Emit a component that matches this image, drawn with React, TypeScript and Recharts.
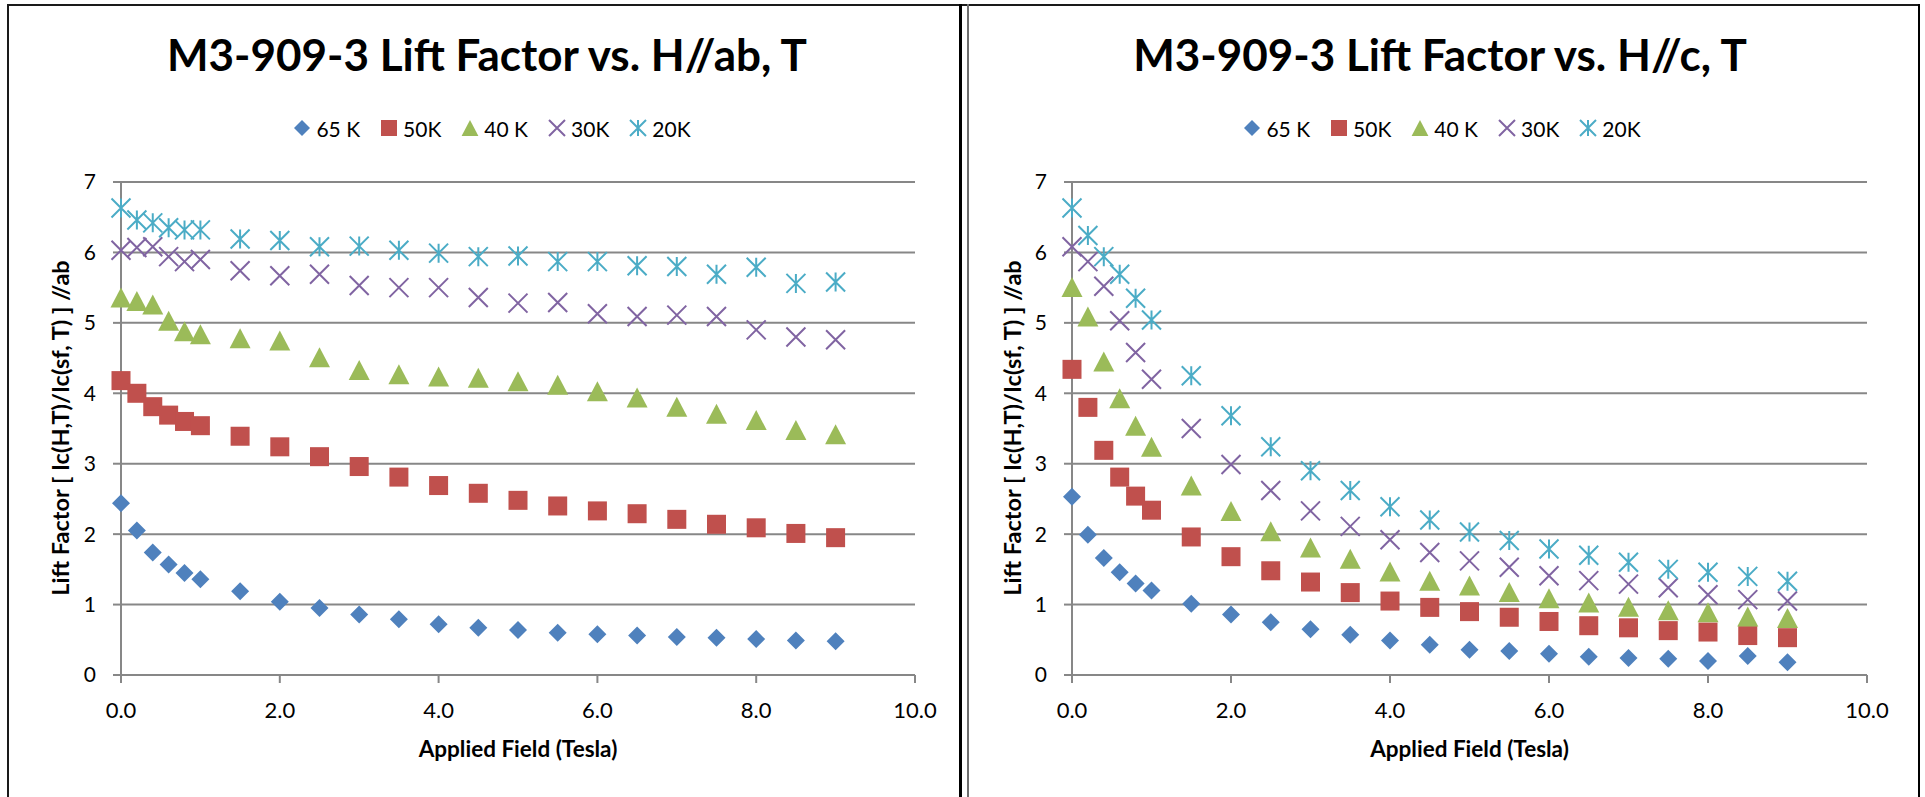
import React from 'react';
import { ScatterChart, Scatter, XAxis, YAxis, CartesianGrid } from 'recharts';

// applied field (Tesla) for every measured point
const fields = [0, 0.2, 0.4, 0.6, 0.8, 1.0, 1.5, 2.0, 2.5, 3.0, 3.5, 4.0, 4.5, 5.0, 5.5, 6.0, 6.5, 7.0, 7.5, 8.0, 8.5, 9.0];

const seriesNames = ['65 K', '50K', '40 K', '30K', '20K'];

// H//ab
const ab65 = [2.44, 2.05, 1.74, 1.57, 1.45, 1.36, 1.19, 1.04, 0.95, 0.86, 0.79, 0.72, 0.67, 0.64, 0.60, 0.58, 0.56, 0.54, 0.53, 0.51, 0.49, 0.48];
const ab50 = [4.18, 4.00, 3.81, 3.69, 3.60, 3.54, 3.39, 3.24, 3.10, 2.96, 2.81, 2.69, 2.58, 2.48, 2.40, 2.33, 2.29, 2.21, 2.14, 2.09, 2.01, 1.95];
const ab40 = [5.36, 5.31, 5.26, 5.03, 4.88, 4.84, 4.78, 4.75, 4.51, 4.33, 4.27, 4.24, 4.22, 4.17, 4.12, 4.03, 3.94, 3.81, 3.71, 3.62, 3.48, 3.42];
const ab30 = [6.03, 6.07, 6.08, 5.94, 5.87, 5.90, 5.74, 5.67, 5.69, 5.53, 5.50, 5.50, 5.36, 5.28, 5.29, 5.13, 5.09, 5.11, 5.09, 4.90, 4.80, 4.76];
const ab20 = [6.63, 6.46, 6.42, 6.35, 6.32, 6.32, 6.19, 6.17, 6.08, 6.09, 6.03, 5.99, 5.94, 5.95, 5.87, 5.87, 5.81, 5.80, 5.69, 5.79, 5.56, 5.58];

// H//c
const c65 = [2.53, 1.99, 1.66, 1.46, 1.30, 1.20, 1.01, 0.86, 0.75, 0.65, 0.57, 0.49, 0.43, 0.36, 0.34, 0.30, 0.26, 0.24, 0.23, 0.20, 0.27, 0.18];
const c50 = [4.34, 3.80, 3.19, 2.81, 2.54, 2.34, 1.96, 1.68, 1.48, 1.32, 1.17, 1.05, 0.96, 0.90, 0.82, 0.76, 0.70, 0.67, 0.63, 0.61, 0.56, 0.53];
const c40 = [5.51, 5.09, 4.45, 3.93, 3.54, 3.24, 2.69, 2.33, 2.04, 1.81, 1.65, 1.47, 1.34, 1.27, 1.18, 1.09, 1.03, 0.97, 0.92, 0.89, 0.83, 0.81];
const c30 = [6.08, 5.87, 5.52, 5.03, 4.58, 4.20, 3.50, 2.99, 2.62, 2.33, 2.11, 1.92, 1.74, 1.62, 1.53, 1.41, 1.34, 1.29, 1.24, 1.14, 1.07, 1.05];
const c20 = [6.63, 6.24, 5.94, 5.69, 5.35, 5.04, 4.25, 3.68, 3.24, 2.90, 2.62, 2.39, 2.20, 2.03, 1.91, 1.79, 1.70, 1.60, 1.50, 1.46, 1.40, 1.33];

const xTicks = [0, 2, 4, 6, 8, 10];
const yTicks = [0, 1, 2, 3, 4, 5, 6, 7];

const COLORS = ['#4F81BD', '#C0504D', '#9BBB59', '#8064A2', '#4BACC6'];
const SIZES = [18, 19, 20, 19, 19];
const GRID = '#878787';
const FONT = 'Lato, "Open Sans", sans-serif';

const W = 960;
const H = 797;

const Marker = ({ kind, cx, cy, s }: { kind: number; cx: number; cy: number; s: number }) => {
  const h = s / 2;
  const c = COLORS[kind];
  if (kind === 0) return <path d={`M${cx},${cy - h}L${cx + h},${cy}L${cx},${cy + h}L${cx - h},${cy}Z`} fill={c} />;
  if (kind === 1) return <rect x={cx - h} y={cy - h} width={s} height={s} fill={c} />;
  if (kind === 2) return <path d={`M${cx},${cy - h}L${cx + h * 1.05},${cy + h}L${cx - h * 1.05},${cy + h}Z`} fill={c} />;
  if (kind === 3)
    return <path d={`M${cx - h},${cy - h}L${cx + h},${cy + h}M${cx + h},${cy - h}L${cx - h},${cy + h}`} stroke={c} strokeWidth={2} fill="none" />;
  return (
    <path
      d={`M${cx - h},${cy - h}L${cx + h},${cy + h}M${cx + h},${cy - h}L${cx - h},${cy + h}M${cx},${cy - h}L${cx},${cy + h}`}
      stroke={c}
      strokeWidth={2}
      fill="none"
    />
  );
};

const makeShape = (kind: number) => (props: any) => <Marker kind={kind} cx={props.cx} cy={props.cy} s={SIZES[kind]} />;

interface PanelProps {
  title: string;
  values: number[][];
  plotLeft: number;
  plotRight: number;
  titleX: number;
  legendX: number;
  yTitleX: number;
}

const Panel = ({ title, values, plotLeft, plotRight, titleX, legendX, yTitleX }: PanelProps) => {
  const plotCenter = (plotLeft + plotRight) / 2;
  return (
    <div style={{ position: 'relative', width: W, height: H }}>
      <div style={{ position: 'absolute', left: 0, top: 0 }}>
        <ScatterChart width={W} height={H} margin={{ top: 182, right: W - plotRight, bottom: 62, left: plotLeft - 60 }}>
          <CartesianGrid vertical={false} stroke={GRID} strokeWidth={2} />
          <XAxis
            type="number"
            dataKey="x"
            domain={[0, 10]}
            ticks={xTicks}
            height={60}
            tickFormatter={(v: number) => v.toFixed(1)}
            stroke={GRID}
            strokeWidth={2}
            tickSize={8}
            tickMargin={19}
            tick={{ fill: '#000', fontSize: 22, fontFamily: FONT }}
          />
          <YAxis
            type="number"
            dataKey="y"
            domain={[0, 7]}
            ticks={yTicks}
            width={60}
            stroke={GRID}
            strokeWidth={2}
            tickSize={8}
            tickMargin={17}
            tick={{ fill: '#000', fontSize: 21, fontFamily: FONT }}
          />
          {values.map((vals, k) => (
            <Scatter
              key={seriesNames[k]}
              name={seriesNames[k]}
              data={fields.map((x, i) => ({ x, y: vals[i] }))}
              shape={makeShape(k)}
              isAnimationActive={false}
            />
          ))}
        </ScatterChart>
      </div>
      <svg width={W} height={H} style={{ position: 'absolute', left: 0, top: 0, pointerEvents: 'none', fontFamily: FONT }}>
        <text x={titleX} y={71} textAnchor="middle" fontSize={44} fontWeight="bold" fill="#000">
          {title}
        </text>
        <text x={plotCenter} y={756.7} textAnchor="middle" fontSize={22.5} fontWeight="bold" fill="#000">
          Applied Field (Tesla)
        </text>
        <text
          transform={`translate(${yTitleX},428) rotate(-90)`}
          textAnchor="middle"
          dominantBaseline="central"
          fontSize={23.5}
          fontWeight="bold"
          fill="#000"
        >
          Lift Factor [ Ic(H,T)/Ic(sf, T) ] //ab
        </text>
      </svg>
      <div
        style={{
          position: 'absolute',
          top: 113,
          left: legendX - 300,
          width: 600,
          height: 30,
          display: 'flex',
          justifyContent: 'center',
          alignItems: 'center',
          fontFamily: FONT,
          fontSize: 21,
        }}
      >
        {seriesNames.map((n, k) => (
          <div key={n} style={{ display: 'flex', alignItems: 'center', marginRight: k < seriesNames.length - 1 ? 20 : 0 }}>
            <svg width={18} height={18} style={{ marginRight: 5 }}>
              <Marker kind={k} cx={9} cy={9} s={16} />
            </svg>
            <span>{n}</span>
          </div>
        ))}
      </div>
    </div>
  );
};

export default function App() {
  return (
    <div style={{ position: 'absolute', left: 0, top: 0, width: 1925, height: 797, background: '#fff', overflow: 'hidden' }}>
      {/* frames */}
      <div style={{ position: 'absolute', left: 7, top: 4, width: 1913, height: 2, background: '#1a1a1a' }} />
      <div style={{ position: 'absolute', left: 7, top: 4, width: 2, height: 793, background: '#1a1a1a' }} />
      <div style={{ position: 'absolute', left: 959, top: 4, width: 3, height: 793, background: '#000' }} />
      <div style={{ position: 'absolute', left: 967, top: 4, width: 2, height: 793, background: '#6e6e6e' }} />
      <div style={{ position: 'absolute', left: 1918, top: 4, width: 2, height: 793, background: '#000' }} />

      <div style={{ position: 'absolute', left: 0, top: 0 }}>
        <Panel
          title="M3-909-3 Lift Factor vs. H//ab, T"
          values={[ab65, ab50, ab40, ab30, ab20]}
          plotLeft={121}
          plotRight={915}
          titleX={487}
          legendX={492}
          yTitleX={60}
        />
      </div>
      <div style={{ position: 'absolute', left: 960, top: 0 }}>
        <Panel
          title="M3-909-3 Lift Factor vs. H//c, T"
          values={[c65, c50, c40, c30, c20]}
          plotLeft={112}
          plotRight={907}
          titleX={480}
          legendX={482}
          yTitleX={52}
        />
      </div>
    </div>
  );
}
